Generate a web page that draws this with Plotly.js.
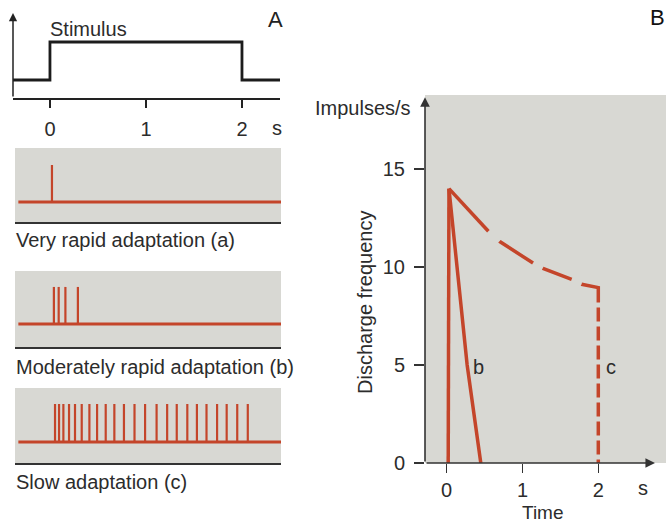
<!DOCTYPE html>
<html>
<head>
<meta charset="utf-8">
<script src="https://cdn.plot.ly/plotly-3.0.1.min.js"></script>
<style>html,body{margin:0;padding:0;background:#fff}#chart{width:666px;height:526px}</style>
</head>
<body>
<div id="chart"></div>
<script>
// ---- data ----
const stimTime = [-0.385, 0, 0, 2, 2, 2.4];
const stimLevel = [0, 0, 1, 1, 0, 0];
const timeTicks = [0, 1, 2];
const timeTickText = ['0', '1', '2'];
const recordSpan = [-0.33, 2.43];
const spikesA = [0.02];
const spikesB = [0.04, 0.09, 0.16, 0.29];
const spikesC = [0.052, 0.094, 0.139, 0.198, 0.26, 0.33, 0.41, 0.49, 0.58, 0.67, 0.77, 0.88,
                 0.99, 1.11, 1.22, 1.32, 1.43, 1.53, 1.63, 1.74, 1.84, 1.95, 2.06];
const spikeLabels = ['Very rapid adaptation (a)', 'Moderately rapid adaptation (b)', 'Slow adaptation (c)'];
const rateTicks = [0, 5, 10, 15];
const timeA = [0.02, 0.03];
const rateA = [0, 14];
const timeB = [0.03, 0.14, 0.27, 0.45];
const rateB = [14, 10, 5, 0];
const timeCSolid = [0.03, 0.3, 0.55];
const rateCSolid = [14, 12.85, 11.83];
const timeCDashed = [0.55, 0.70, 1.14, 1.27, 1.65, 1.78, 2.0, 2.0];
const rateCDashed = [11.83, 11.3, 10.2, 9.93, 9.37, 9.12, 8.95, 0];

// ---- layout helpers ----
const W = 666, H = 526;
const px = v => v / W;
const py = v => 1 - v / H;
const FONT = 'Liberation Sans, Arial, sans-serif';
const TXT = '#2c2c2c';
const RED = '#c4452a';
const GRAY = '#d8d8d3';

function spikeXY(times) {
  const x = [], y = [];
  times.forEach(t => { x.push(t, t, null); y.push(0, 1, null); });
  return {x, y};
}

const traces = [];
traces.push({x: stimTime, y: stimLevel, xaxis: 'x', yaxis: 'y', mode: 'lines',
  line: {color: '#1c1c1c', width: 2.8}, hoverinfo: 'skip'});
[[spikesA, 'x2', 'y2'], [spikesB, 'x3', 'y3'], [spikesC, 'x4', 'y4']].forEach(([s, xa, ya]) => {
  traces.push({x: recordSpan, y: [0, 0], xaxis: xa, yaxis: ya, mode: 'lines',
    line: {color: RED, width: 2.8}, hoverinfo: 'skip'});
  const sp = spikeXY(s);
  traces.push({x: sp.x, y: sp.y, xaxis: xa, yaxis: ya, mode: 'lines',
    line: {color: RED, width: 2.2}, hoverinfo: 'skip'});
});
traces.push({x: timeA, y: rateA, xaxis: 'x5', yaxis: 'y5', mode: 'lines',
  line: {color: RED, width: 3.5}, hoverinfo: 'skip'});
traces.push({x: timeB, y: rateB, xaxis: 'x5', yaxis: 'y5', mode: 'lines',
  line: {color: RED, width: 3.5}, hoverinfo: 'skip'});
traces.push({x: timeCSolid, y: rateCSolid, xaxis: 'x5', yaxis: 'y5', mode: 'lines',
  line: {color: RED, width: 3.5}, hoverinfo: 'skip'});
let dashPat = '0px,15px,40px,11px,31px,11px,32px,5px';
for (let i = 0; i < 9; i++) dashPat += ',14px,5px';
traces.push({x: timeCDashed, y: rateCDashed, xaxis: 'x5', yaxis: 'y5', mode: 'lines',
  line: {color: RED, width: 3.5, dash: dashPat}, hoverinfo: 'skip'});

const hidden = {showgrid: false, zeroline: false, showticklabels: false, ticks: '', fixedrange: true};
const stimRangeX = [-0.385, 2.396];
const stimRangeY = [-0.474, 1.763];
const spikeRangeX = [-0.365, 2.406];
const bRangeX = [-0.286, 2.893];
const bRangeY = [0, 18.78];

const layout = {
  width: W, height: H,
  margin: {l: 0, r: 0, t: 0, b: 0},
  paper_bgcolor: '#ffffff', plot_bgcolor: 'rgba(0,0,0,0)',
  showlegend: false,
  font: {family: FONT, color: TXT, size: 20},
  xaxis: {domain: [px(13), px(280)], range: stimRangeX, showgrid: false, zeroline: false,
    showline: true, linecolor: '#222', linewidth: 1.5,
    tickvals: timeTicks, ticktext: timeTickText, ticks: 'outside', ticklen: 8, tickwidth: 1.5, tickcolor: '#222',
    tickfont: {size: 20, color: TXT, family: FONT}, ticklabelstandoff: 4, anchor: 'y'},
  yaxis: Object.assign({domain: [py(98), py(13)], range: stimRangeY, anchor: 'x'}, hidden),
  xaxis2: {domain: [px(15), px(281)], range: spikeRangeX, showgrid: false, zeroline: false,
    showticklabels: false, ticks: '', showline: true, linecolor: '#333', linewidth: 1.5, anchor: 'y2'},
  yaxis2: Object.assign({domain: [py(222), py(148)], range: [-0.54, 1.46], anchor: 'x2'}, hidden),
  xaxis3: {domain: [px(15), px(281)], range: spikeRangeX, showgrid: false, zeroline: false,
    showticklabels: false, ticks: '', showline: true, linecolor: '#333', linewidth: 1.5, anchor: 'y3'},
  yaxis3: Object.assign({domain: [py(347), py(271)], range: [-0.62, 1.43], anchor: 'x3'}, hidden),
  xaxis4: {domain: [px(15), px(281)], range: spikeRangeX, showgrid: false, zeroline: false,
    showticklabels: false, ticks: '', showline: true, linecolor: '#333', linewidth: 1.5, anchor: 'y4'},
  yaxis4: Object.assign({domain: [py(463), py(388)], range: [-0.553, 1.42], anchor: 'x4'}, hidden),
  xaxis5: {domain: [px(425), 1], range: bRangeX, showgrid: false, zeroline: false, showline: false,
    tickvals: timeTicks, ticktext: timeTickText, ticks: 'outside', ticklen: 9, tickwidth: 1.5, tickcolor: '#333',
    tickfont: {size: 20, color: TXT, family: FONT}, ticklabelstandoff: 0, anchor: 'y5'},
  yaxis5: {domain: [py(463), py(95)], range: bRangeY, showgrid: false, zeroline: false, showline: false,
    tickvals: rateTicks, ticks: 'outside', ticklen: 10, tickwidth: 1.5, tickcolor: '#333',
    tickfont: {size: 20, color: TXT, family: FONT}, ticklabelstandoff: 5, anchor: 'x5'},
  shapes: [
    {type: 'rect', xref: 'x2 domain', yref: 'y2 domain', x0: 0, x1: 1, y0: 0, y1: 1, fillcolor: GRAY, line: {width: 0}, layer: 'below'},
    {type: 'rect', xref: 'x3 domain', yref: 'y3 domain', x0: 0, x1: 1, y0: 0, y1: 1, fillcolor: GRAY, line: {width: 0}, layer: 'below'},
    {type: 'rect', xref: 'x4 domain', yref: 'y4 domain', x0: 0, x1: 1, y0: 0, y1: 1, fillcolor: GRAY, line: {width: 0}, layer: 'below'},
    {type: 'rect', xref: 'x5 domain', yref: 'y5 domain', x0: 0, x1: 1, y0: 0, y1: 1, fillcolor: GRAY, line: {width: 0}, layer: 'below'}
  ],
  annotations: []
};

const ann = layout.annotations;
function label(text, x, y, opts) {
  ann.push(Object.assign({text: text, xref: 'paper', yref: 'paper', x: px(x), y: py(y),
    showarrow: false, xanchor: 'center', yanchor: 'middle', font: {size: 20, color: TXT, family: FONT}}, opts || {}));
}
// axis arrows
ann.push({text: '', xref: 'x', yref: 'y', axref: 'x', ayref: 'y',
  x: stimRangeX[0], y: stimRangeY[1], ax: stimRangeX[0], ay: stimRangeY[0],
  showarrow: true, arrowhead: 2, arrowsize: 1.1, arrowwidth: 1.5, arrowcolor: '#222', standoff: 0, startstandoff: 0});
ann.push({text: '', xref: 'x5', yref: 'y5', axref: 'x5', ayref: 'y5',
  x: bRangeX[0], y: 18.67, ax: bRangeX[0], ay: 0,
  showarrow: true, arrowhead: 2, arrowsize: 1.2, arrowwidth: 1.6, arrowcolor: '#333', standoff: 0, startstandoff: 0});
ann.push({text: '', xref: 'x5', yref: 'y5', axref: 'x5', ayref: 'y5',
  x: 2.748, y: 0, ax: bRangeX[0], ay: 0,
  showarrow: true, arrowhead: 2, arrowsize: 1.2, arrowwidth: 1.6, arrowcolor: '#333', standoff: 0, startstandoff: 0});

label('A', 275, 20, {font: {size: 22, color: '#222', family: FONT}});
label('B', 657, 17, {font: {size: 22, color: '#111', family: FONT}});
label('Stimulus', 48, 29, {xanchor: 'left'});
label('s', 277, 128);
label(spikeLabels[0], 14, 240, {xanchor: 'left'});
label(spikeLabels[1], 14, 367, {xanchor: 'left'});
label(spikeLabels[2], 14, 482, {xanchor: 'left'});
label('Impulses/s', 413, 108, {xanchor: 'right'});
label('Discharge frequency', 365, 303, {textangle: -90});
label('Time', 543, 525, {yanchor: 'bottom', font: {size: 19, color: TXT, family: FONT}});
label('s', 643, 488);
label('b', 478, 367);
label('c', 611, 367);

Plotly.newPlot('chart', traces, layout, {staticPlot: true, displayModeBar: false});
</script>
</body>
</html>
